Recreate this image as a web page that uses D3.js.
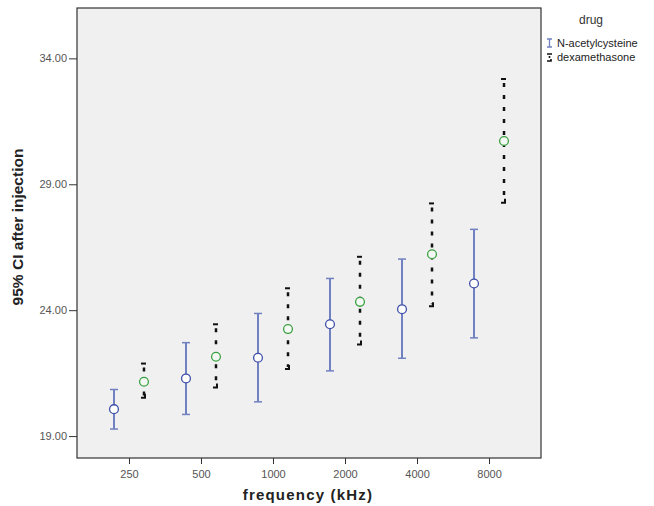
<!DOCTYPE html>
<html>
<head>
<meta charset="utf-8">
<script src="https://cdn.jsdelivr.net/npm/d3@7.9.0/dist/d3.min.js"></script>
<style>
  body { margin: 0; background: #fff; }
  svg { font-family: "Liberation Sans", Arial, sans-serif; }
  .tick text { fill: #555; font-size: 11px; }
  .tick line { stroke: #333; }
</style>
</head>
<body>
<svg id="chart" width="654" height="506"></svg>
<script>
// Data
const frequencies = ['250', '500', '1000', '2000', '4000', '8000'];
const nacMean  = [20.07, 21.29, 22.11, 23.44, 24.04, 25.06];
const nacLow   = [19.28, 19.86, 20.36, 21.59, 22.09, 22.90];
const nacHigh  = [20.85, 22.71, 23.87, 25.26, 26.03, 27.21];
const dexMean  = [21.16, 22.15, 23.25, 24.33, 26.22, 30.72];
const dexLow   = [20.52, 20.93, 21.66, 22.64, 24.16, 28.27];
const dexHigh  = [21.88, 23.44, 24.87, 26.12, 28.24, 33.18];
const yTicks   = [19, 24, 29, 34];

const svg = d3.select('#chart');

// Plot area
const plotLeft = 77, plotRight = 541, plotTop = 8, plotBottom = 458;

const x = d3.scalePoint().domain(frequencies).range([plotLeft, plotRight]).padding(0.722);
const y = d3.scaleLinear().domain([18.13, 36.0]).range([plotBottom, plotTop]);

svg.append('rect')
  .attr('x', plotLeft).attr('y', plotTop)
  .attr('width', plotRight - plotLeft).attr('height', plotBottom - plotTop)
  .attr('fill', '#f0f0f0')
  .attr('stroke', '#333')
  .attr('stroke-width', 1.2);

// Axes
const yAxis = svg.append('g')
  .attr('transform', `translate(${plotLeft},0)`)
  .call(d3.axisLeft(y).tickValues(yTicks).tickFormat(d3.format('.2f')).tickSize(8).tickPadding(2));
yAxis.select('.domain').remove();

const xAxis = svg.append('g')
  .attr('transform', `translate(0,${plotBottom})`)
  .call(d3.axisBottom(x).tickSize(6).tickPadding(6));
xAxis.select('.domain').remove();

// Axis titles
svg.append('text')
  .attr('transform', 'translate(23,227) rotate(-90)')
  .attr('text-anchor', 'middle')
  .attr('font-size', 15.5)
  .attr('font-weight', 'bold')
  .attr('fill', '#222')
  .text('95% CI after injection');

svg.append('text')
  .attr('x', 308).attr('y', 500)
  .attr('text-anchor', 'middle')
  .attr('font-size', 15)
  .attr('font-weight', 'bold')
  .attr('letter-spacing', 1.2)
  .attr('fill', '#222')
  .text('frequency (kHz)');

// Error bars
const nacColor = '#7080c0';
const offset = 15;

const nacData = frequencies.map((f, i) => ({ f, mean: nacMean[i], lo: nacLow[i], hi: nacHigh[i] }));
const dexData = frequencies.map((f, i) => ({ f, mean: dexMean[i], lo: dexLow[i], hi: dexHigh[i] }));

const nac = svg.append('g');
nacData.forEach((d) => {
  const cx = x(d.f) - offset;
  nac.append('line')
    .attr('x1', cx).attr('x2', cx)
    .attr('y1', y(d.lo)).attr('y2', y(d.hi))
    .attr('stroke', nacColor).attr('stroke-width', 2);
  [d.lo, d.hi].forEach((v) => {
    nac.append('line')
      .attr('x1', cx - 4).attr('x2', cx + 4)
      .attr('y1', y(v)).attr('y2', y(v))
      .attr('stroke', nacColor).attr('stroke-width', 1.5);
  });
  nac.append('circle')
    .attr('cx', cx).attr('cy', y(d.mean)).attr('r', 4.4)
    .attr('fill', '#fff').attr('stroke', '#3e4ea8').attr('stroke-width', 1.3);
});

const dex = svg.append('g');
dexData.forEach((d) => {
  const cx = x(d.f) + offset;
  dex.append('line')
    .attr('x1', cx).attr('x2', cx)
    .attr('y1', y(d.hi) + 4).attr('y2', y(d.lo) - 2)
    .attr('stroke', '#111').attr('stroke-width', 2.5)
    .attr('stroke-dasharray', '4,8');
  dex.append('line')
    .attr('x1', cx - 3).attr('x2', cx + 2)
    .attr('y1', y(d.hi)).attr('y2', y(d.hi))
    .attr('stroke', '#111').attr('stroke-width', 2);
  dex.append('path')
    .attr('d', `M${cx - 3},${y(d.lo)}H${cx + 1}V${y(d.lo) - 4}`)
    .attr('fill', 'none')
    .attr('stroke', '#111').attr('stroke-width', 2);
  dex.append('circle')
    .attr('cx', cx).attr('cy', y(d.mean)).attr('r', 4.4)
    .attr('fill', '#f4f8f4').attr('stroke', '#3aa040').attr('stroke-width', 1.3);
});

// Legend
const legend = svg.append('g');
legend.append('text')
  .attr('x', 591).attr('y', 24)
  .attr('text-anchor', 'middle')
  .attr('font-size', 12)
  .attr('fill', '#333')
  .text('drug');

legend.append('path')
  .attr('d', 'M547,39H552M549.5,39V47M547,47H552')
  .attr('fill', 'none').attr('stroke', nacColor).attr('stroke-width', 1.3);
legend.append('path')
  .attr('d', 'M547,54H552M549.5,56V58M547,61H551V59')
  .attr('fill', 'none').attr('stroke', '#111').attr('stroke-width', 1.6);

legend.append('text')
  .attr('x', 557).attr('y', 47)
  .attr('font-size', 11).attr('fill', '#222')
  .text('N-acetylcysteine');
legend.append('text')
  .attr('x', 557).attr('y', 61)
  .attr('font-size', 11).attr('fill', '#222')
  .text('dexamethasone');
</script>
</body>
</html>
